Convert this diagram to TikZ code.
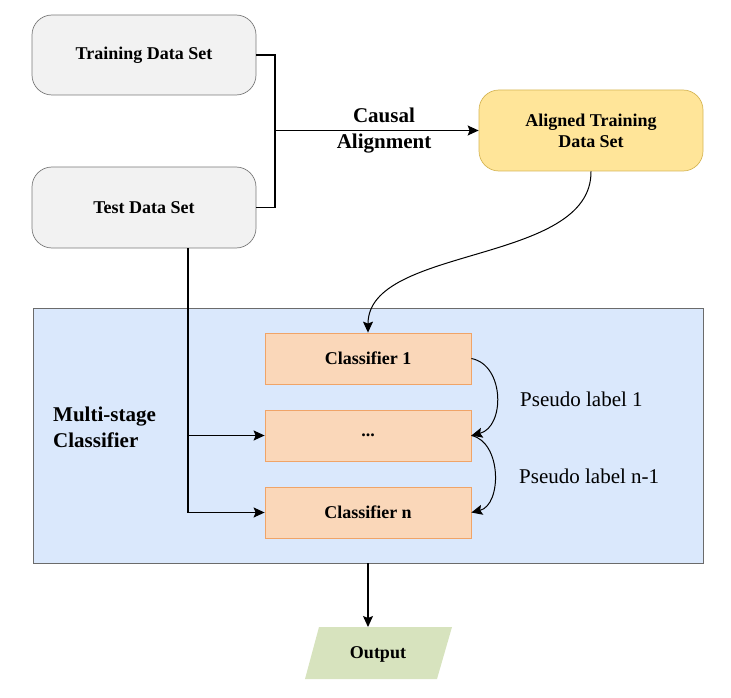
\documentclass[tikz,border=0pt]{standalone}
\usepackage{fontspec}
\setmainfont{Liberation Serif}
\usetikzlibrary{arrows.meta}
\definecolor{grayfill}{HTML}{F2F2F2}
\definecolor{grayline}{HTML}{7A7A7A}
\definecolor{yelfill}{HTML}{FFE599}
\definecolor{yelline}{HTML}{D6B656}
\definecolor{bluefill}{HTML}{DAE8FC}
\definecolor{blueline}{HTML}{6B6B6B}
\definecolor{peachfill}{HTML}{FAD7B9}
\definecolor{peachline}{HTML}{F0A468}
\definecolor{greenfill}{HTML}{D7E3BE}
\tikzset{
  databox/.style={draw=grayline, fill=grayfill, rounded corners=20pt, line width=0.7pt,
    minimum width=224pt, minimum height=80pt, font=\fontsize{18}{21}\selectfont\bfseries, align=center},
  clsbox/.style={draw=peachline, fill=peachfill, line width=0.8pt,
    minimum width=206pt, minimum height=51pt, font=\fontsize{18}{21}\selectfont\bfseries},
  conn/.style={line width=1.2pt, draw=black},
  arr/.style={conn, -{Stealth[length=11pt,width=10pt,inset=2pt]}},
  lbl/.style={font=\fontsize{21}{26}\selectfont\bfseries, inner sep=0pt},
  plbl/.style={font=\fontsize{21}{25}\selectfont, inner sep=0pt, anchor=base west},
}
\begin{document}
\begin{tikzpicture}[x=1pt,y=-1pt]
\useasboundingbox (0,0) rectangle (731,698);
% input boxes
\node[databox] (train) at (144,55) {Training Data Set};
\node[databox, minimum height=81pt] (test) at (144,207.5) {Test Data Set};
\node[databox, draw=yelline, fill=yelfill, minimum height=81pt] (al) at (591,130.5) {Aligned Training\\Data Set};
% stage area
\node[draw=blueline, fill=bluefill, line width=0.7pt, minimum width=670pt, minimum height=255pt, inner sep=0pt] (stage) at (368,435.5) {};
\node[clsbox] (c1) at (368,358.5) {Classifier 1};
\node[clsbox] (cd) at (368,435.5) {...};
\node[clsbox] (cn) at (368,512.5) {Classifier n};
\node[lbl, anchor=base west] (ms1) at (53,421) {Multi-stage};
\node[lbl, anchor=base west] (ms2) at (53,447) {Classifier};
\node[plbl] (p1) at (520,406) {Pseudo label 1};
\node[plbl] (pn) at (519,483) {Pseudo label n-1};
% output
\fill[greenfill] (319,627) -- (452,627) -- (437,679) -- (305,679) -- cycle;
\node[font=\fontsize{18}{21}\selectfont\bfseries] (out) at (378,654) {Output};
\coordinate (outtop) at (368,627);
% connectors
\coordinate (j) at (275,130.5);
\draw[conn] (train.east) -| (j) |- (test.east);
\draw[arr] (j) -- (al.west);
\node[lbl] (ca1) [anchor=base] at (384,123) {Causal};
\node[lbl] (ca2) [anchor=base] at (384,149) {Alignment};
\draw[arr, line width=1pt] (al.south) .. controls (592,265) and (368,245) .. (c1.north);
\draw[arr, line width=1pt] (c1.east) .. controls (505,365) and (505,427) .. (cd.east);
\draw[arr, line width=1pt] (cd.east) .. controls (502,442) and (502,505) .. (cn.east);
\coordinate (tb) at ([xshift=44pt]test.south);
\draw[arr] (tb) |- (cn.west);
\draw[arr] (tb |- cd.west) -- (cd.west);
\draw[arr] (stage.south) -- (outtop);
\end{tikzpicture}
\end{document}
